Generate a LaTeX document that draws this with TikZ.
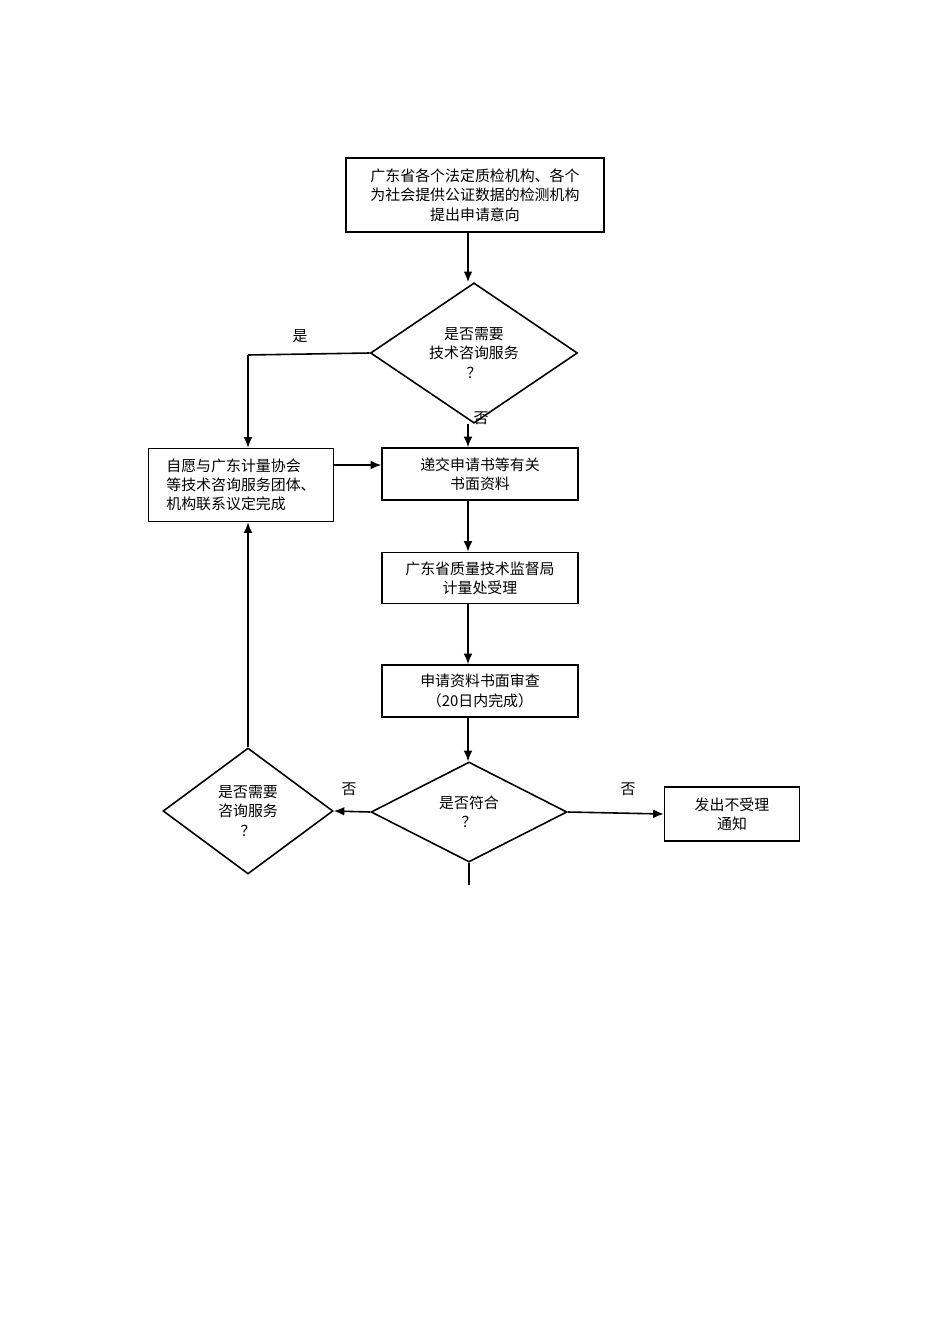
\documentclass[tikz,border=0pt]{standalone}
\usepackage{fontspec}
\setmainfont{Liberation Serif}
\newfontfamily\cjk{Noto Sans CJK SC}
\usetikzlibrary{shapes.geometric,arrows.meta}
\begin{document}
\begin{tikzpicture}[x=0.02cm,y=-0.02cm,
 bx/.style={draw,line width=0.9pt,inner sep=0pt,font=\cjk\fontsize{8.5}{11}\selectfont,align=center},
 dm/.style={draw,line width=0.9pt,diamond,inner sep=0pt,font=\cjk\fontsize{8.5}{11}\selectfont,align=center},
 ar/.style={line width=0.9pt,-{Latex[length=6pt,width=5pt]}},
 ln/.style={line width=0.9pt},
 lb/.style={font=\cjk\fontsize{8.5}{11}\selectfont}]
\useasboundingbox (0,0) rectangle (950,1344);
\node[bx,minimum width=258*0.02cm,minimum height=74*0.02cm] (top) at (475,195) {广东省各个法定质检机构、各个\\为社会提供公证数据的检测机构\\提出申请意向};
\node[dm,minimum width=207*0.02cm,minimum height=114*0.02cm] (d1) at (474,353) {是否需要\\技术咨询服务\\？};
\node[bx,minimum width=185*0.02cm,minimum height=73*0.02cm,align=left] (lb) at (241,485) {自愿与广东计量协会\\等技术咨询服务团体、\\机构联系议定完成};
\node[bx,minimum width=196*0.02cm,minimum height=52*0.02cm] (b2) at (480,474) {递交申请书等有关\\书面资料};
\node[bx,minimum width=196*0.02cm,minimum height=51*0.02cm] (b3) at (480,578) {广东省质量技术监督局\\计量处受理};
\node[bx,minimum width=196*0.02cm,minimum height=52*0.02cm] (b4) at (480,691) {申请资料书面审查\\（20日内完成）};
\node[dm,minimum width=196*0.02cm,minimum height=100*0.02cm] (d2) at (469,812) {是否符合\\？};
\node[dm,minimum width=170*0.02cm,minimum height=126*0.02cm] (d3) at (248,811) {是否需要\\咨询服务\\？};
\node[bx,minimum width=135*0.02cm,minimum height=54*0.02cm] (rb) at (732,814) {发出不受理\\通知};
\coordinate (c1) at (248,355);
\coordinate (st) at (469,885);
\draw[ar] (top.south -| 468,0) -- (d1.north -| 468,0);
\draw[ar] (d1.south -| 468,0) -- (b2.north -| 468,0);
\draw[ln] (d1.west) -- (c1);
\draw[ar] (c1) -- (lb.north -| c1);
\draw[ar] (lb.east |- 0,465) -- (b2.west |- 0,465);
\draw[ar] (b2.south -| 468,0) -- (b3.north -| 468,0);
\draw[ar] (b3.south -| 468,0) -- (b4.north -| 468,0);
\draw[ar] (b4.south -| 468,0) -- (d2.north -| 468,0);
\draw[ar] (d2.west) -- (d3.east);
\draw[ar] (d2.east) -- (rb.west);
\draw[ar] (d3.north) -- (lb.south -| d3.north);
\draw[ln] (d2.south) -- (st);
\node[lb] (l1) at (300,336) {是};
\node[lb] (l2) at (481,418) {否};
\node[lb] (l3) at (349,789) {否};
\node[lb] (l4) at (628,789) {否};
\end{tikzpicture}
\end{document}
